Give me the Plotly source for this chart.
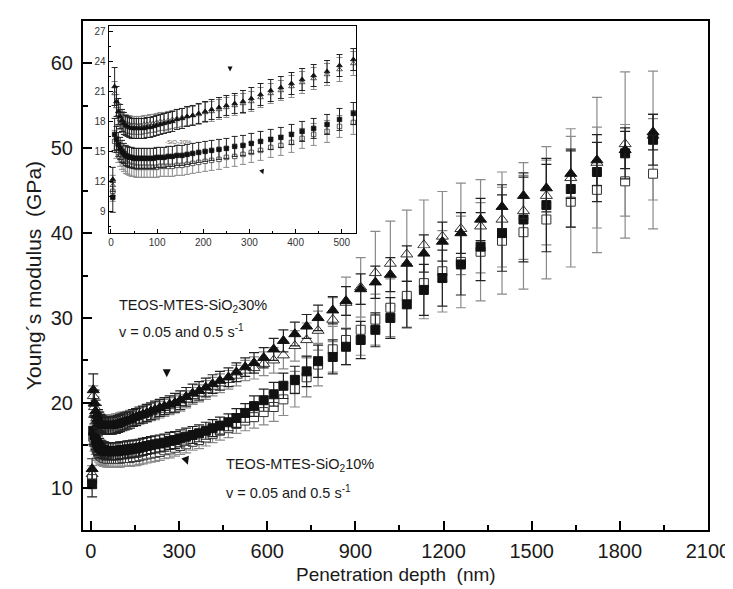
import plotly.graph_objects as go

# penetration depth (nm), shared by the four curves
depth = [4, 8, 12, 16, 20, 24, 28, 32, 36, 40, 45, 50, 55, 60, 66, 72, 78, 85, 92, 99,
         107, 115, 124, 133, 143, 154, 165, 177, 190, 204, 218, 234, 250, 268, 286, 304,
         324, 346, 368, 391, 414, 439, 468, 495, 525, 555, 588, 622, 655, 694, 734, 773,
         823, 868, 918, 968, 1019, 1075, 1133, 1196, 1259, 1326, 1399, 1472, 1550, 1633,
         1722, 1818, 1913]

# TEOS-MTES-SiO2 30% (triangles)
tri_filled = [12.2, 21.5, 20.0, 19.0, 18.5, 18.1, 17.8, 17.6, 17.5, 17.4, 17.3, 17.3, 17.3, 17.3,
              17.3, 17.3, 17.4, 17.4, 17.5, 17.6, 17.7, 17.8, 17.9, 18.0, 18.2, 18.3, 18.5, 18.6,
              18.8, 19.0, 19.2, 19.4, 19.6, 19.8, 20.0, 20.3, 20.7, 21.1, 21.4, 21.8, 22.2, 22.6,
              23.0, 23.6, 24.2, 24.7, 25.3, 26.3, 27.3, 28.1, 29.0, 30.0, 30.9, 32.0, 33.4, 34.2,
              35.1, 36.4, 37.6, 39.0, 40.0, 41.6, 43.1, 44.4, 45.3, 47.0, 48.6, 49.8, 51.9]
tri_filled_err = [1.2, 1.9, 1.5, 1.3, 1.2, 1.1, 1.1, 1.0, 1.0, 1.0, 1.0, 1.0, 1.0, 1.0, 1.0, 1.0,
                  1.0, 1.0, 1.0, 1.0, 1.0, 1.0, 1.0, 1.0, 1.0, 1.0, 1.0, 1.0, 1.0, 1.0, 1.0, 1.0,
                  1.0, 1.0, 1.1, 1.1, 1.1, 1.1, 1.1, 1.1, 1.1, 1.1, 1.1, 1.1, 1.1, 1.2, 1.2, 1.3,
                  1.3, 1.4, 1.4, 1.5, 1.6, 1.7, 1.8, 1.9, 2.0, 2.1, 2.2, 2.3, 2.4, 2.5, 2.6, 2.7,
                  2.8, 2.9, 3.0, 2.2, 2.1]
tri_open = [11.6, 20.8, 19.5, 18.7, 18.2, 18.0, 17.9, 17.8, 17.7, 17.7, 17.6, 17.6, 17.6, 17.6,
            17.6, 17.7, 17.7, 17.8, 17.8, 17.9, 18.0, 18.0, 18.1, 18.2, 18.3, 18.4, 18.5, 18.6,
            18.7, 18.9, 19.0, 19.2, 19.4, 19.6, 19.8, 20.0, 20.4, 20.8, 21.1, 21.5, 21.9, 22.3,
            22.7, 23.2, 23.8, 24.1, 24.6, 25.0, 25.6, 26.7, 27.4, 28.5, 29.8, 31.8, 33.6, 35.3,
            36.4, 37.5, 38.6, 39.6, 40.5, 40.8, 41.6, 42.6, 44.4, 46.5, 48.3, 50.5, 51.5]
tri_open_err = [1.0, 1.2, 1.2, 1.1, 1.0, 1.0, 1.0, 0.9, 0.9, 0.9, 0.9, 0.9, 0.9, 0.9, 0.9, 0.9,
                0.9, 0.9, 0.9, 0.9, 0.9, 0.9, 0.9, 0.9, 0.9, 0.9, 0.9, 0.9, 1.0, 1.0, 1.0, 1.0,
                1.0, 1.0, 1.0, 1.0, 1.0, 1.0, 1.0, 1.1, 1.1, 1.1, 1.1, 1.2, 1.2, 1.3, 1.4, 1.5,
                1.6, 1.8, 2.0, 2.3, 2.6, 3.0, 3.5, 4.9, 5.0, 5.2, 5.3, 5.3, 5.4, 5.5, 5.6, 5.7,
                5.8, 5.8, 7.7, 8.5, 7.6]

# TEOS-MTES-SiO2 10% (squares)
sq_filled = [10.4, 16.7, 16.2, 15.7, 15.3, 15.0, 14.8, 14.6, 14.5, 14.4, 14.4, 14.3, 14.3, 14.3,
             14.3, 14.3, 14.3, 14.3, 14.3, 14.4, 14.4, 14.4, 14.5, 14.5, 14.6, 14.6, 14.7, 14.8,
             14.9, 15.0, 15.1, 15.2, 15.3, 15.5, 15.6, 15.8, 16.0, 16.2, 16.4, 16.7, 17.0, 17.3,
             17.7, 18.2, 18.8, 19.6, 20.3, 21.0, 22.0, 22.7, 23.7, 24.9, 25.4, 26.6, 27.4, 28.6,
             30.0, 31.6, 33.3, 34.7, 36.3, 38.4, 40.0, 41.6, 43.3, 45.2, 47.2, 49.4, 51.0]
sq_filled_err = [1.5, 1.6, 1.3, 1.2, 1.1, 1.1, 1.0, 1.0, 1.0, 1.0, 1.0, 1.0, 1.0, 1.0, 1.0, 1.0,
                 1.0, 1.0, 1.0, 1.0, 1.0, 1.0, 1.0, 1.0, 1.0, 1.0, 1.0, 1.0, 1.0, 1.0, 1.0, 1.0,
                 1.0, 1.0, 1.0, 1.0, 1.0, 1.0, 1.0, 1.0, 1.0, 1.0, 1.0, 1.1, 1.1, 1.2, 1.3, 1.4,
                 1.5, 1.6, 1.8, 1.9, 2.0, 2.1, 2.2, 2.0, 2.4, 2.7, 3.0, 3.3, 3.6, 4.0, 4.5, 5.0,
                 5.5, 4.5, 3.5, 3.0, 3.0]
sq_open = [11.0, 16.0, 15.4, 14.9, 14.5, 14.2, 14.0, 13.8, 13.7, 13.6, 13.5, 13.5, 13.4, 13.4,
           13.4, 13.4, 13.4, 13.4, 13.4, 13.4, 13.5, 13.5, 13.5, 13.5, 13.6, 13.6, 13.7, 13.8,
           13.9, 14.0, 14.1, 14.2, 14.4, 14.5, 14.7, 14.9, 15.1, 15.4, 15.6, 15.9, 16.3, 16.7,
           17.0, 17.5, 17.9, 18.3, 18.9, 19.5, 20.4, 21.6, 23.0, 24.5, 26.3, 27.4, 28.6, 29.8,
           31.2, 32.6, 34.1, 35.5, 36.6, 37.8, 39.1, 40.1, 41.6, 43.7, 45.1, 46.1, 47.0]
sq_open_err = [1.0, 1.1, 1.1, 1.0, 1.0, 1.0, 1.0, 1.0, 1.0, 1.0, 1.0, 1.0, 1.0, 1.0, 1.0, 1.0,
               1.0, 1.0, 1.0, 1.0, 1.0, 1.0, 1.0, 1.0, 1.0, 1.0, 1.0, 1.0, 1.0, 1.0, 1.0, 1.0,
               1.0, 1.0, 1.0, 1.0, 1.0, 1.0, 1.0, 1.0, 1.0, 1.1, 1.1, 1.1, 1.2, 1.3, 1.5, 1.7,
               1.9, 2.1, 2.3, 2.5, 2.7, 2.9, 3.0, 3.0, 3.4, 3.8, 4.2, 4.8, 5.4, 5.8, 6.3, 6.7,
               7.0, 7.7, 7.4, 6.7, 6.5]

# arrow marks pointing at the two families
arrow_x = [258, 330]
arrow_y = [23.0, 12.7]
arrow_angle = [0, -20]

INSET_MAX = 530
FONT = "Liberation Sans, Arial, Helvetica, sans-serif"

series = [
    # y, err, symbol, fill, outline, bar colour, main size, inset size
    (tri_open, tri_open_err, "triangle-up", "white", "#333333", "#8a8a8a", 10.5, 5),
    (sq_open, sq_open_err, "square", "white", "#333333", "#8a8a8a", 9, 4.5),
    (sq_filled, sq_filled_err, "square", "#111111", "#111111", "#222222", 9, 4.5),
    (tri_filled, tri_filled_err, "triangle-up", "#111111", "#111111", "#222222", 10.5, 5),
]

fig = go.Figure()

for y, err, sym, fill, edge, bar, size_main, size_in in series:
    fig.add_trace(go.Scatter(
        x=depth, y=y, mode="markers",
        marker=dict(symbol=sym, size=size_main, color=fill, line=dict(color=edge, width=1)),
        error_y=dict(type="data", array=err, color=bar, thickness=1.2, width=5),
    ))
    keep = [i for i, d in enumerate(depth) if d <= INSET_MAX]
    fig.add_trace(go.Scatter(
        x=[depth[i] for i in keep], y=[y[i] for i in keep], mode="markers",
        xaxis="x2", yaxis="y2",
        marker=dict(symbol=sym, size=size_in, color=fill, line=dict(color=edge, width=0.8)),
        error_y=dict(type="data", array=[err[i] for i in keep], color=bar, thickness=1, width=3),
    ))

fig.add_trace(go.Scatter(
    x=arrow_x, y=arrow_y, mode="markers",
    marker=dict(symbol="arrow-down", size=8, angle=arrow_angle, color="#111111"),
))
fig.add_trace(go.Scatter(
    x=arrow_x, y=arrow_y, mode="markers", xaxis="x2", yaxis="y2",
    marker=dict(symbol="arrow-down", size=5, angle=arrow_angle, color="#111111"),
))

labels = [
    (90, 31.4, "TEOS-MTES-SiO<sub>2</sub>30%"),
    (90, 28.4, "v = 0.05 and 0.5 s<sup>-1</sup>"),
    (453, 12.7, "TEOS-MTES-SiO<sub>2</sub>10%"),
    (453, 9.5, "v = 0.05 and 0.5 s<sup>-1</sup>"),
]
for lx, ly, txt in labels:
    fig.add_annotation(x=lx, y=ly, xref="x", yref="y", text=txt, showarrow=False,
                       xanchor="left", yanchor="middle", font=dict(size=14.5, color="#1a1a1a"))

fig.add_annotation(x=112, y=15.9, xref="x2", yref="y2", text="-SiO<sub>2</sub>30%", showarrow=False,
                   xanchor="left", yanchor="middle", font=dict(size=6, color="#555555"))

# axis titles placed as annotations so their position can be set exactly
fig.add_annotation(x=-0.079, y=0.5, xref="paper", yref="paper", text="Young\u00b4s modulus\u00a0 (GPa)",
                   textangle=-90, showarrow=False, xanchor="center", yanchor="middle",
                   font=dict(size=21, color="#1a1a1a"))
fig.add_annotation(x=0.5, y=-0.088, xref="paper", yref="paper", text="Penetration depth\u00a0 (nm)",
                   showarrow=False, xanchor="center", yanchor="middle",
                   font=dict(size=19, color="#1a1a1a"))

main_axis = dict(showline=True, linewidth=2, linecolor="black", mirror=True,
                 showgrid=False, zeroline=False, ticks="inside", ticklen=9,
                 tickwidth=1.5, tickcolor="black", tickfont=dict(size=20))
inset_axis = dict(showline=True, linewidth=1, linecolor="black", mirror=True,
                  showgrid=False, zeroline=False, ticks="inside", ticklen=4,
                  tickwidth=1, tickcolor="black", tickfont=dict(size=10, color="#333333"))

fig.update_layout(
    width=733, height=589,
    margin=dict(l=75, r=24, t=11, b=67),
    plot_bgcolor="white", paper_bgcolor="white",
    showlegend=False,
    font=dict(family=FONT, color="#1a1a1a"),
    xaxis=dict(main_axis, range=[-27, 2100], tick0=0, dtick=300, ticklabelstandoff=2,
               minor=dict(dtick=150, ticks="inside", ticklen=5, tickcolor="black")),
    yaxis=dict(main_axis, range=[5, 65], tick0=0, dtick=10, ticklabelstandoff=4,
               minor=dict(dtick=5, ticks="inside", ticklen=5, tickcolor="black")),
    xaxis2=dict(inset_axis, domain=[0.041, 0.437], anchor="y2", range=[-5, 531],
                tick0=0, dtick=100, minor=dict(dtick=50, ticks="inside", ticklen=2, tickcolor="black")),
    yaxis2=dict(inset_axis, domain=[0.583, 0.99], anchor="x2", range=[6.8, 27.55],
                tick0=0, dtick=3, minor=dict(dtick=1.5, ticks="inside", ticklen=2, tickcolor="black")),
)

fig.write_html("out.html")
